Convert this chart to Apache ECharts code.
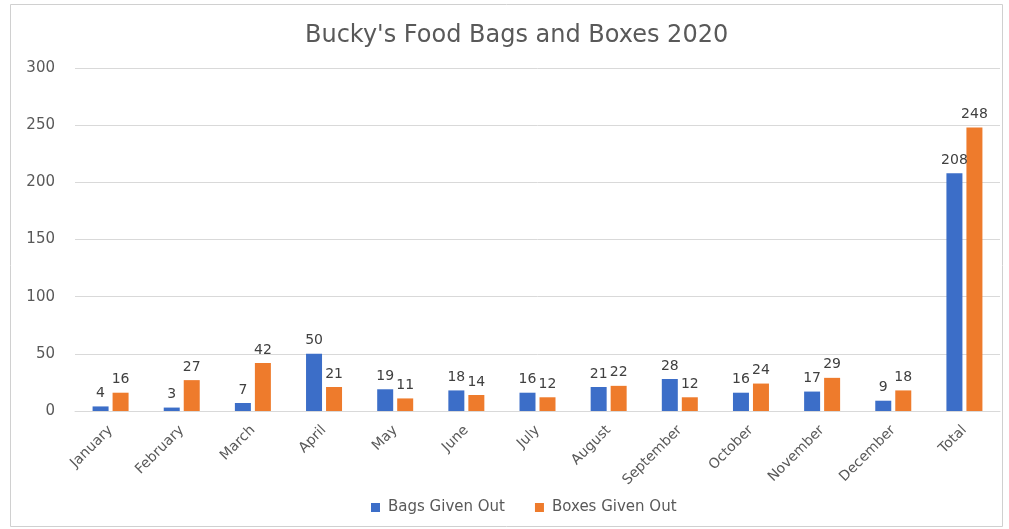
<!DOCTYPE html>
<html>
<head>
<meta charset="utf-8">
<script src="https://cdn.jsdelivr.net/npm/echarts@6/dist/echarts.min.js"></script>
<style>
html,body{margin:0;padding:0;background:#fff;}
#c{width:1009px;height:529px;}
</style>
</head>
<body>
<div id="c"></div>
<script>
const categories = ['January','February','March','April','May','June','July','August','September','October','November','December','Total'];
const bags = [4,3,7,50,19,18,16,21,28,16,17,9,208];
const boxes = [16,27,42,21,11,14,12,22,12,24,29,18,248];
const yTicks = [0,50,100,150,200,250,300];

const chart = echarts.init(document.getElementById('c'));
const font = 'DejaVu Sans, sans-serif';
const labelStyle = {show:true, position:'top', distance:6, color:'#404040', fontSize:14, fontFamily:font};
chart.setOption({
  backgroundColor:'#fff',
  animation:false,
  title:{text:"Bucky's Food Bags and Boxes 2020", left:300, top:19,
    textStyle:{fontSize:24, fontWeight:'normal', color:'#595959', fontFamily:font}},
  graphic:[{type:'rect', shape:{x:10.5,y:4.5,width:992,height:522}, style:{fill:'none', stroke:'#d0d0d0', lineWidth:1}, silent:true, z:-1}],
  legend:{bottom:9, left:366, itemWidth:9, itemHeight:9, itemGap:30, icon:'rect',
    textStyle:{color:'#595959', fontSize:15, fontFamily:font, padding:[0,0,0,3]}},
  grid:{left:75, right:9, top:68, bottom:118, containLabel:false},
  xAxis:{type:'category', data:categories,
    axisLine:{lineStyle:{color:'#d9d9d9'}}, axisTick:{show:false},
    axisLabel:{rotate:45, color:'#595959', fontSize:14, fontFamily:font, margin:17, interval:0}},
  yAxis:{type:'value', min:yTicks[0], max:yTicks[yTicks.length-1], interval:50,
    axisLine:{show:false}, axisTick:{show:false},
    splitLine:{lineStyle:{color:'#d9d9d9'}},
    axisLabel:{color:'#595959', fontSize:15, fontFamily:font, margin:20}},
  series:[
    {name:'Bags Given Out', type:'bar', data:bags, barWidth:16, barGap:'25%',
      itemStyle:{color:'#3c6ec8'}, label:labelStyle},
    {name:'Boxes Given Out', type:'bar', data:boxes, barWidth:16,
      itemStyle:{color:'#ee7b2c'}, label:labelStyle}
  ]
});
</script>
</body>
</html>
